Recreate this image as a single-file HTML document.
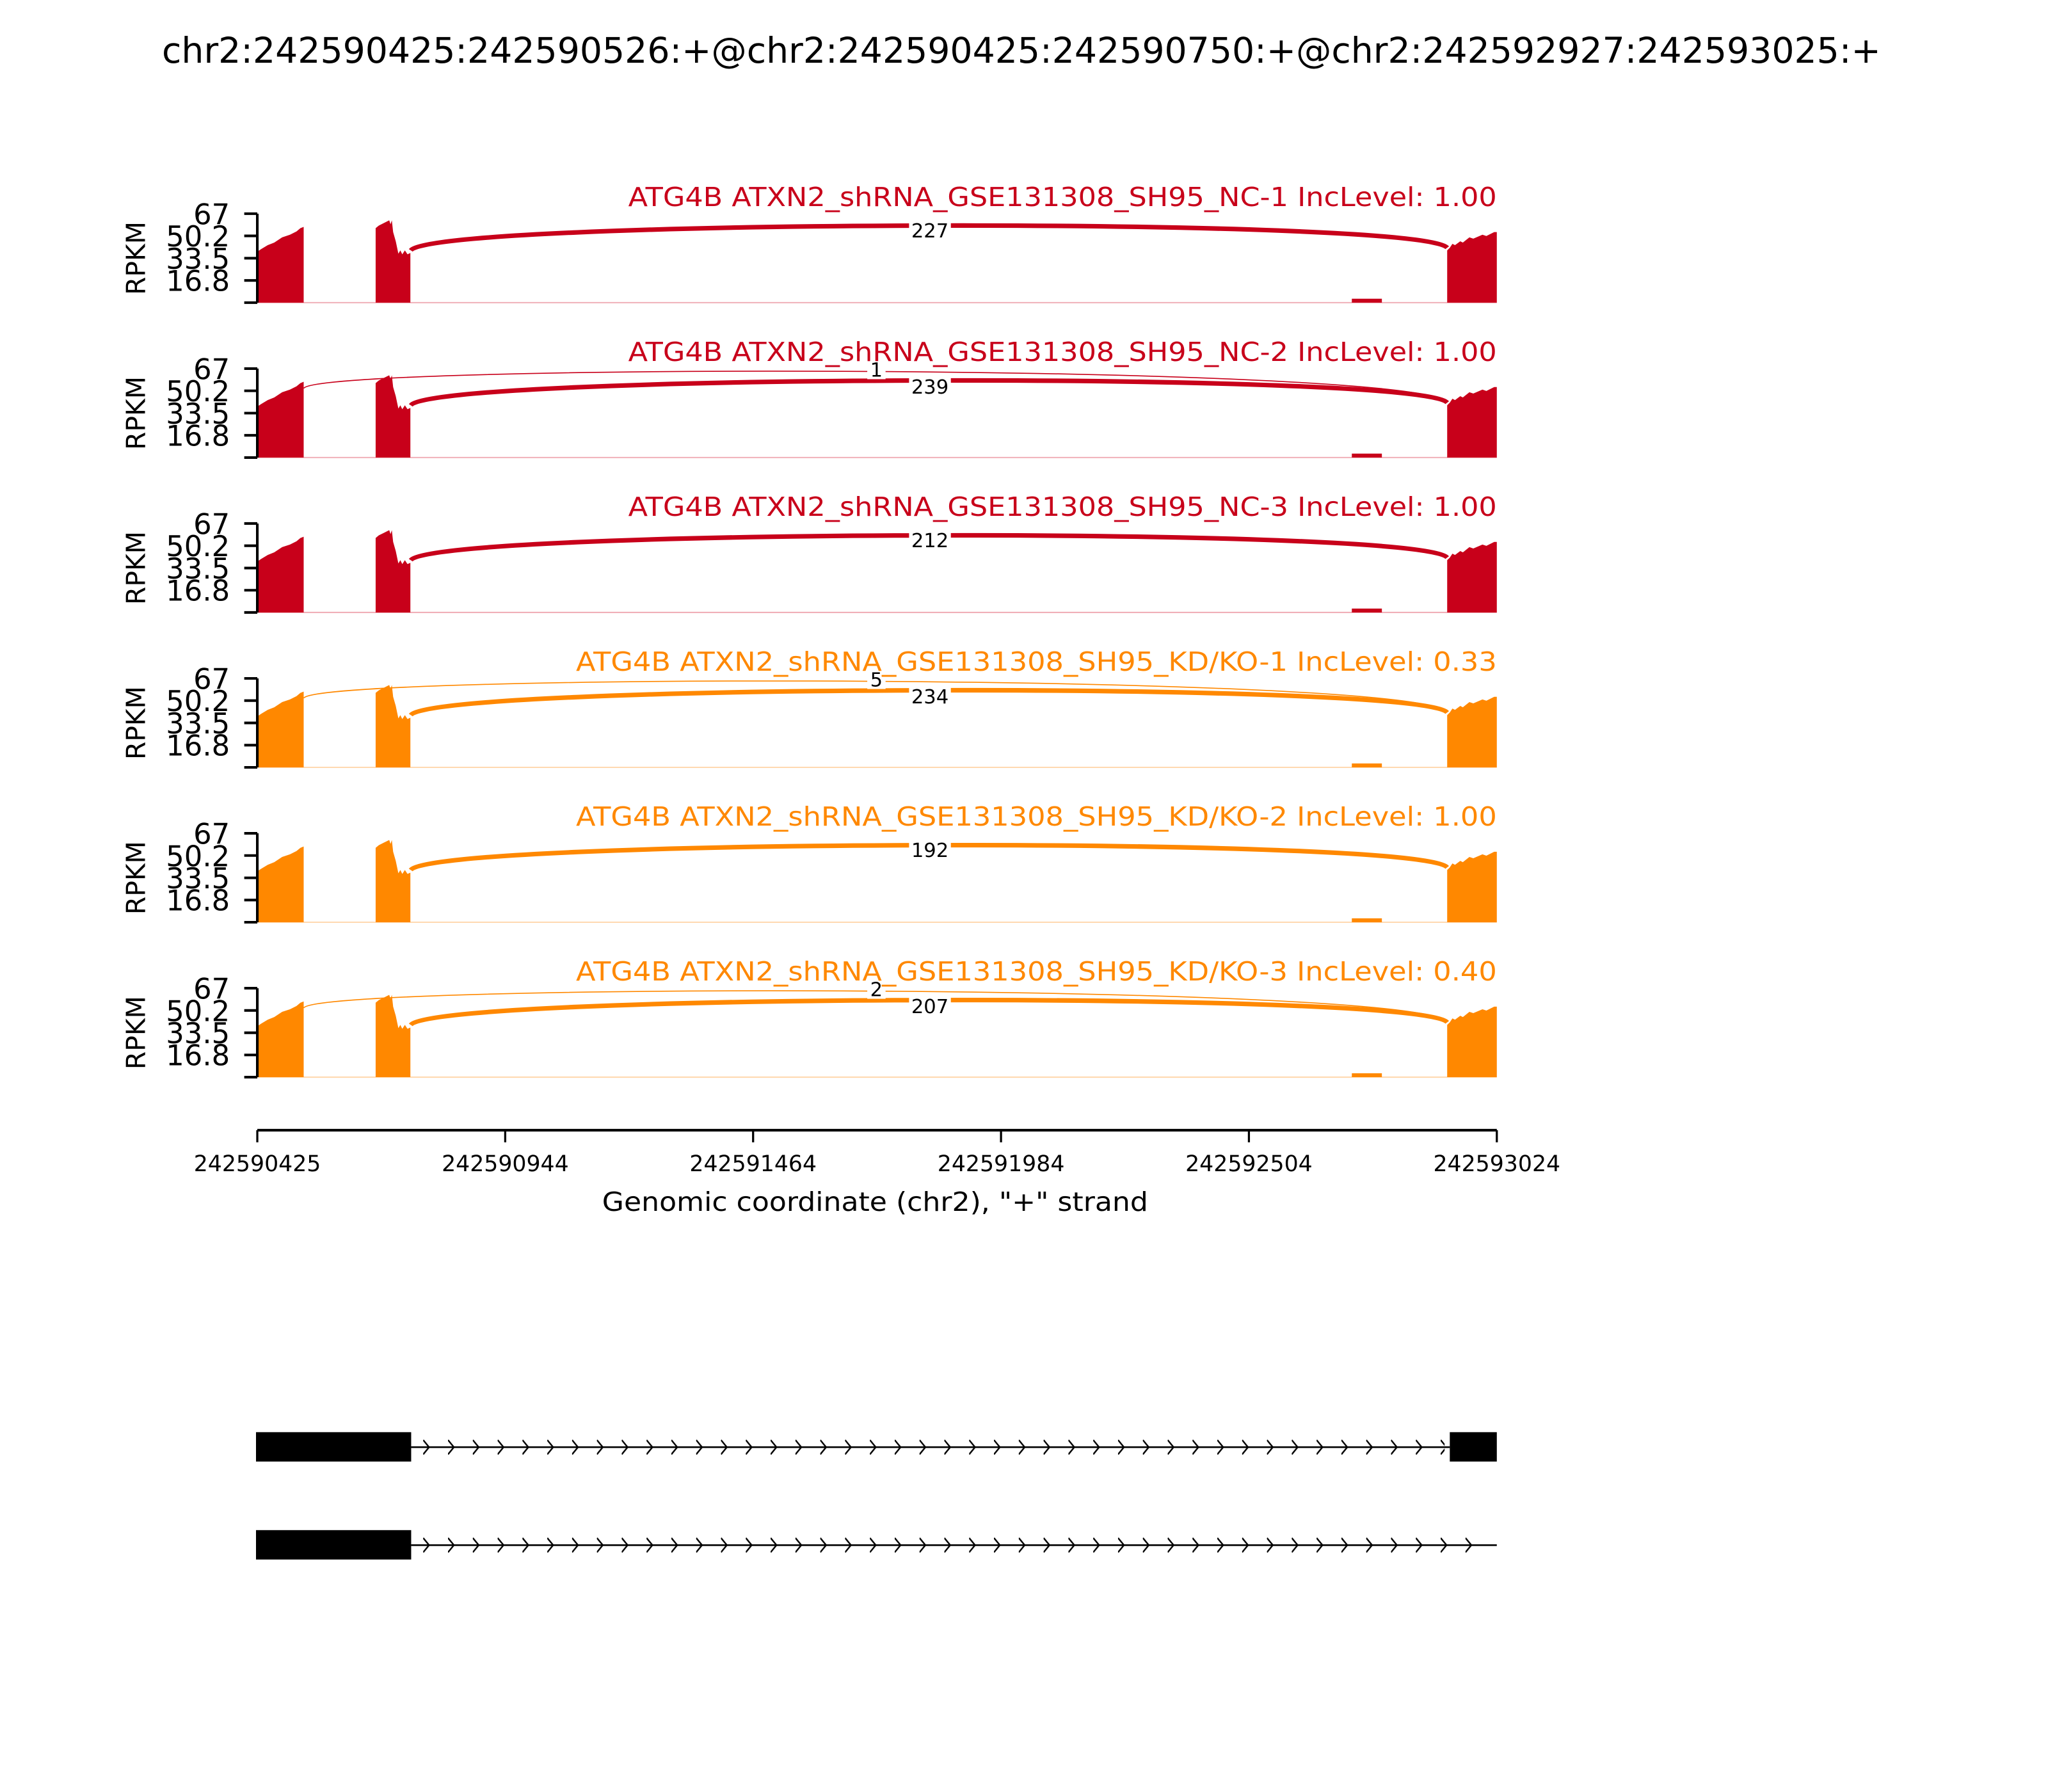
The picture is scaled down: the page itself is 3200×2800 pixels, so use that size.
<!DOCTYPE html>
<html><head><meta charset="utf-8"><style>
html,body{margin:0;padding:0;background:#fff;}
svg{display:block;}
text{font-family:"DejaVu Sans","Liberation Sans",sans-serif;}
</style></head><body>
<svg width="3200" height="2800" viewBox="0 0 1568 1372" xmlns="http://www.w3.org/2000/svg">
<defs>
<path id="cov" d="M197,0 L197,-39 L200,-41 L205,-44 L210,-46 L216,-50 L222,-52 L227,-54.5 L230,-57 L232.5,-58 L232.5,0 Z M287.6,0 L287.6,-57 L290,-59 L294,-61 L298,-63 L299,-60 L300,-63 L301,-54 L303,-47 L305,-37.5 L306.5,-40 L308,-37 L310,-40 L312,-37 L314.2,-38 L314.2,0 Z M1108,0 L1108,-40 L1110,-42 L1112,-45 L1114,-44 L1118,-47 L1120,-46 L1125,-50 L1128,-49 L1135,-52 L1138,-51 L1144,-54 L1146,-54 L1146,0 Z M1035,0 L1035,-3 L1058,-3 L1058,0 Z"/>
<path id="arc" d="M314.5,-40 C330,-64 1090,-66 1108,-42" fill="none" stroke-width="3.5"/>
<path id="thin" d="M232.5,-53 C245,-72 1090,-72 1108,-42" fill="none" stroke-width="0.8"/>
<g id="axis">
<line x1="197" y1="-68.1" x2="197" y2="0" stroke="#000" stroke-width="2"/>
<path d="M187,-68.1H197M187,-51.1H197M187,-34H197M187,-17H197M187,0H197" stroke="#000" stroke-width="2"/>
<g font-size="22" text-anchor="end" fill="#000">
<text x="176" y="-60">67</text>
<text x="176" y="-43">50.2</text>
<text x="176" y="-26">33.5</text>
<text x="176" y="-9">16.8</text>
</g>
<text transform="translate(111,-34) rotate(-90)" font-size="20" text-anchor="middle">RPKM</text>
</g>
<pattern id="chev" x="324" y="0" width="19" height="1372" patternUnits="userSpaceOnUse">
<path d="M0,1102.5 L4.5,1108 L0,1113.5 M0,1177.5 L4.5,1183 L0,1188.5" fill="none" stroke="#000" stroke-width="1.2"/>
</pattern>
</defs>

<text x="782" y="48" font-size="27" text-anchor="middle" textLength="1316" lengthAdjust="spacingAndGlyphs">chr2:242590425:242590526:+@chr2:242590425:242590750:+@chr2:242592927:242593025:+</text>

<g transform="translate(0,231.7)">
<line x1="197" y1="0" x2="1146" y2="0" stroke="#f0b0b8" stroke-width="1"/>
<use href="#cov" fill="#C8001A"/>
<use href="#arc" stroke="#C8001A"/>
<rect x="696" y="-63" width="32" height="14" fill="#fff"/>
<text x="712" y="-50" font-size="15" text-anchor="middle">227</text>
<use href="#axis"/>
<text x="1146" y="-74" font-size="20" text-anchor="end" fill="#C8001A" textLength="665" lengthAdjust="spacingAndGlyphs">ATG4B ATXN2_shRNA_GSE131308_SH95_NC-1 IncLevel: 1.00</text>
</g>
<g transform="translate(0,350.3)">
<line x1="197" y1="0" x2="1146" y2="0" stroke="#f0b0b8" stroke-width="1"/>
<use href="#cov" fill="#C8001A"/>
<use href="#thin" stroke="#C8001A"/>
<use href="#arc" stroke="#C8001A"/>
<rect x="664" y="-74" width="14" height="14" fill="#fff"/>
<text x="671" y="-62" font-size="15" text-anchor="middle">1</text>
<rect x="696" y="-62" width="32" height="14" fill="#fff"/>
<text x="712" y="-49" font-size="15" text-anchor="middle">239</text>
<use href="#axis"/>
<text x="1146" y="-74" font-size="20" text-anchor="end" fill="#C8001A" textLength="665" lengthAdjust="spacingAndGlyphs">ATG4B ATXN2_shRNA_GSE131308_SH95_NC-2 IncLevel: 1.00</text>
</g>
<g transform="translate(0,468.9)">
<line x1="197" y1="0" x2="1146" y2="0" stroke="#f0b0b8" stroke-width="1"/>
<use href="#cov" fill="#C8001A"/>
<use href="#arc" stroke="#C8001A"/>
<rect x="696" y="-63" width="32" height="14" fill="#fff"/>
<text x="712" y="-50" font-size="15" text-anchor="middle">212</text>
<use href="#axis"/>
<text x="1146" y="-74" font-size="20" text-anchor="end" fill="#C8001A" textLength="665" lengthAdjust="spacingAndGlyphs">ATG4B ATXN2_shRNA_GSE131308_SH95_NC-3 IncLevel: 1.00</text>
</g>
<g transform="translate(0,587.5)">
<line x1="197" y1="0" x2="1146" y2="0" stroke="#ffd9b0" stroke-width="1"/>
<use href="#cov" fill="#FF8800"/>
<use href="#thin" stroke="#FF8800"/>
<use href="#arc" stroke="#FF8800"/>
<rect x="664" y="-74" width="14" height="14" fill="#fff"/>
<text x="671" y="-62" font-size="15" text-anchor="middle">5</text>
<rect x="696" y="-62" width="32" height="14" fill="#fff"/>
<text x="712" y="-49" font-size="15" text-anchor="middle">234</text>
<use href="#axis"/>
<text x="1146" y="-74" font-size="20" text-anchor="end" fill="#FF8800" textLength="705" lengthAdjust="spacingAndGlyphs">ATG4B ATXN2_shRNA_GSE131308_SH95_KD/KO-1 IncLevel: 0.33</text>
</g>
<g transform="translate(0,706.1)">
<line x1="197" y1="0" x2="1146" y2="0" stroke="#ffd9b0" stroke-width="1"/>
<use href="#cov" fill="#FF8800"/>
<use href="#arc" stroke="#FF8800"/>
<rect x="696" y="-63" width="32" height="14" fill="#fff"/>
<text x="712" y="-50" font-size="15" text-anchor="middle">192</text>
<use href="#axis"/>
<text x="1146" y="-74" font-size="20" text-anchor="end" fill="#FF8800" textLength="705" lengthAdjust="spacingAndGlyphs">ATG4B ATXN2_shRNA_GSE131308_SH95_KD/KO-2 IncLevel: 1.00</text>
</g>
<g transform="translate(0,824.7)">
<line x1="197" y1="0" x2="1146" y2="0" stroke="#ffd9b0" stroke-width="1"/>
<use href="#cov" fill="#FF8800"/>
<use href="#thin" stroke="#FF8800"/>
<use href="#arc" stroke="#FF8800"/>
<rect x="664" y="-74" width="14" height="14" fill="#fff"/>
<text x="671" y="-62" font-size="15" text-anchor="middle">2</text>
<rect x="696" y="-62" width="32" height="14" fill="#fff"/>
<text x="712" y="-49" font-size="15" text-anchor="middle">207</text>
<use href="#axis"/>
<text x="1146" y="-74" font-size="20" text-anchor="end" fill="#FF8800" textLength="705" lengthAdjust="spacingAndGlyphs">ATG4B ATXN2_shRNA_GSE131308_SH95_KD/KO-3 IncLevel: 0.40</text>
</g>

<line x1="197" y1="865.3" x2="1146" y2="865.3" stroke="#000" stroke-width="2"/>
<path d="M197,865.3v9.3M386.8,865.3v9.3M576.6,865.3v9.3M766.4,865.3v9.3M956.2,865.3v9.3M1146,865.3v9.3" stroke="#000" stroke-width="1.6"/>
<g font-size="17" text-anchor="middle">
<text x="197" y="896.6">242590425</text>
<text x="386.8" y="896.6">242590944</text>
<text x="576.6" y="896.6">242591464</text>
<text x="766.4" y="896.6">242591984</text>
<text x="956.2" y="896.6">242592504</text>
<text x="1146" y="896.6">242593024</text>
</g>
<text x="670" y="927" font-size="20" text-anchor="middle" textLength="418" lengthAdjust="spacingAndGlyphs">Genomic coordinate (chr2), "+" strand</text>

<line x1="314.8" y1="1108" x2="1110" y2="1108" stroke="#000" stroke-width="1.3"/>
<rect x="196" y="1096.5" width="118.8" height="22.5" fill="#000"/>
<rect x="1110" y="1096.5" width="36" height="22.5" fill="#000"/>
<rect x="318" y="1100" width="788" height="16" fill="url(#chev)"/>
<line x1="314.8" y1="1183" x2="1146" y2="1183" stroke="#000" stroke-width="1.3"/>
<rect x="196" y="1171.5" width="118.8" height="22.5" fill="#000"/>
<rect x="318" y="1175" width="820" height="16" fill="url(#chev)"/>
</svg>
</body></html>
